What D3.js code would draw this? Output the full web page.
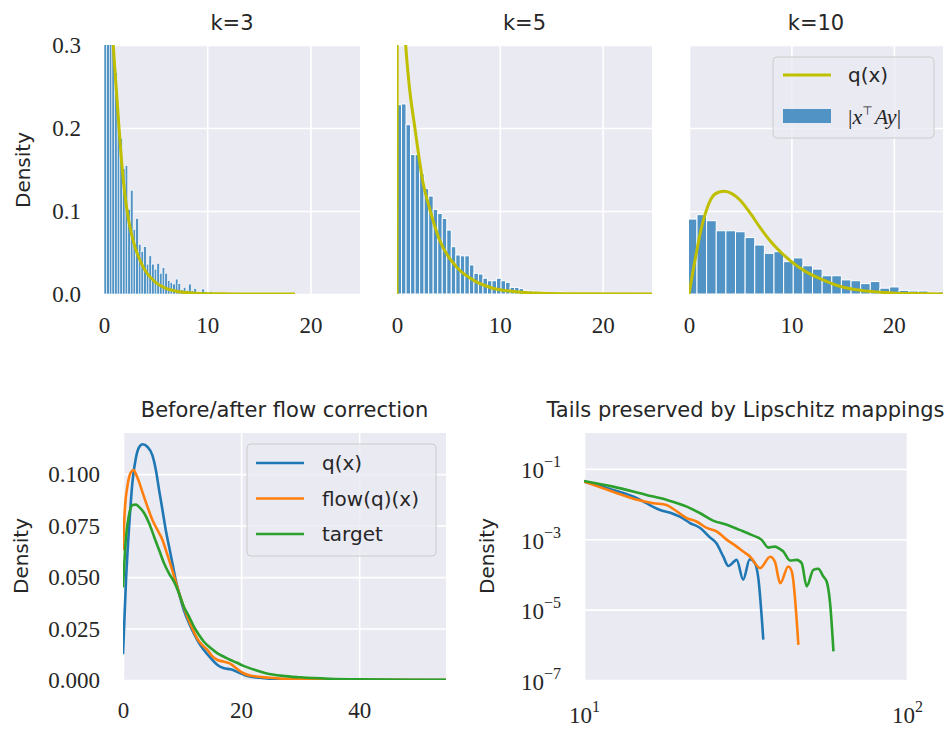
<!DOCTYPE html>
<html>
<head>
<meta charset="utf-8">
<title>Density panels</title>
<script src="https://d3js.org/d3.v7.min.js"></script>
<style>
  body { margin: 0; background: #ffffff; }
  text { fill: #262626; }
  .sans { font-family: "DejaVu Sans", sans-serif; }
  .serif { font-family: "Liberation Serif", serif; }
</style>
</head>
<body>
<script type="text/javascript">
	var W = 947, H = 730;

	// --- histograms of |x^T A y| (density per bin)
	var histK3Start = 0, histK3Width = 0.256;
	var histK3 = [0.55, 0.45, 0.38, 0.32, 0.267, 0.214, 0.187, 0.151, 0.155, 0.102, 0.125, 0.078, 0.091,
		0.060, 0.051, 0.057, 0.036, 0.046, 0.036, 0.030, 0.037, 0.025, 0.032, 0.025, 0.016, 0.014, 0.012,
		0.018, 0.0125, 0.005, 0.008, 0.0045, 0.012, 0.004, 0.0065, 0.002, 0.001, 0.006, 0.003, 0.0005,
		0.003, 0.0005, 0.002, 0.0003, 0.0003, 0.0003, 0.002];

	var histK5Start = 0, histK5Width = 0.44;
	var histK5 = [0.228, 0.229, 0.204, 0.168, 0.168, 0.145, 0.127, 0.118, 0.102, 0.097, 0.091, 0.077,
		0.057, 0.047, 0.046, 0.046, 0.035, 0.025, 0.024, 0.019, 0.016, 0.016, 0.019, 0.016, 0.014, 0.008,
		0.008, 0.0065, 0.004, 0.0036, 0.0016, 0.0012, 0.0024, 0.0008, 0.0005, 0.0005, 0.0024, 0.0003, 0.0003];

	var histK10Start = -0.16, histK10Width = 0.94;
	var histK10 = [0.0903, 0.0956, 0.0883, 0.0762, 0.0762, 0.075, 0.068, 0.059, 0.049, 0.051, 0.039,
		0.0435, 0.034, 0.030, 0.022, 0.022, 0.017, 0.016, 0.0125, 0.015, 0.007, 0.0085, 0.0044, 0.0036,
		0.0036, 0.0016, 0.0024];

	// --- fitted q(x) curves [x, density]
	var qK3 = [[0.4, 0.45], [0.6, 0.37], [0.85, 0.31], [1.0, 0.28], [1.2, 0.245], [1.4, 0.21], [1.7, 0.16],
		[2.0, 0.122], [2.4, 0.088], [2.85, 0.063], [3.4, 0.043], [4.0, 0.028], [5.0, 0.014], [6.0, 0.0068],
		[7.0, 0.0033], [8.5, 0.0012], [10, 0.0004], [13, 0.0001], [18.5, 0]];
	var qK5 = [[0, 0], [0.02, 0.3], [0.1, 0.48], [0.3, 0.46], [0.5, 0.39], [0.81, 0.307], [1.2, 0.25],
		[1.72, 0.202], [2.52, 0.135], [3.17, 0.103], [4.14, 0.065], [5.76, 0.033], [7.38, 0.017],
		[9.32, 0.007], [11.3, 0.003], [14, 0.0008], [17, 0.0002], [24.8, 0]];
	var qK10 = [[0, 0], [0.59, 0.041], [1.24, 0.081], [1.73, 0.102], [2.22, 0.116], [2.88, 0.1226],
		[3.46, 0.1238], [4.18, 0.121], [5.0, 0.113], [6.0, 0.097], [7.0, 0.079], [8.0, 0.063], [9.0, 0.05],
		[10.0, 0.039], [11.4, 0.027], [12.7, 0.019], [14.3, 0.0109], [15.9, 0.006], [17.6, 0.0032],
		[19.9, 0.0012], [22, 0.0005], [24.8, 0.0001]];

	// --- before/after flow correction
	var flowQ = [[0, 0.0125], [0.5, 0.048], [1.07, 0.076], [1.63, 0.097], [2.19, 0.108], [2.75, 0.1132],
		[3.32, 0.1145], [4.16, 0.1132], [5.0, 0.109], [5.57, 0.102], [6.13, 0.092], [6.69, 0.0825],
		[7.25, 0.0728], [7.81, 0.0647], [8.38, 0.0566], [8.94, 0.0485], [9.5, 0.042], [10.3, 0.034],
		[11.2, 0.0275], [12.0, 0.0226], [12.9, 0.0178], [13.7, 0.0146], [14.9, 0.0105], [16.0, 0.0073],
		[17.1, 0.0057], [18.2, 0.0052], [19.7, 0.0035], [20.9, 0.0021], [23.1, 0.0011], [25, 0.0006],
		[30, 0.0001], [40, 0.00002], [54.7, 0]];
	var flowCorrected = [[0, 0.063], [0.34, 0.084], [0.79, 0.095], [1.35, 0.101], [1.8, 0.102], [2.19, 0.100],
		[2.75, 0.096], [3.32, 0.091], [4.16, 0.084], [5.0, 0.0776], [5.85, 0.0728], [6.69, 0.068], [7.5, 0.061],
		[8.38, 0.053], [9.2, 0.045], [10.1, 0.037], [10.9, 0.0307], [11.75, 0.025], [12.6, 0.020], [13.4, 0.017],
		[14.3, 0.0146], [15.1, 0.0116], [16.0, 0.0097], [17.1, 0.0089], [18.2, 0.0078], [19.2, 0.0057],
		[20.3, 0.0034], [22.0, 0.0019], [24.8, 0.0011], [27, 0.0006], [30, 0.0003], [40, 0.00005], [54.7, 0]];
	var flowTarget = [[0, 0.045], [0.51, 0.0695], [1.07, 0.081], [1.63, 0.085], [2.19, 0.0852], [2.75, 0.084],
		[3.6, 0.081], [4.44, 0.076], [5.28, 0.0695], [6.13, 0.063], [6.97, 0.0566], [7.81, 0.0517],
		[8.66, 0.0477], [9.5, 0.042], [10.3, 0.0356], [11.2, 0.0307], [12.0, 0.0259], [12.9, 0.0218],
		[13.7, 0.0186], [14.9, 0.0154], [16.0, 0.0129], [17.1, 0.0113], [18.2, 0.0097], [19.2, 0.0085],
		[20.3, 0.0070], [22, 0.0052], [24.2, 0.0033], [27, 0.0020], [30, 0.0013], [35, 0.0006], [40, 0.0003],
		[50, 0.0001], [54.7, 0.00005]];

	// --- tails (log-log)
	var tailQ = [[10.0, 0.0436], [12.3, 0.0253], [14.6, 0.0147], [15.6, 0.0106], [17.2, 0.0068], [18.5, 0.0057],
		[19.8, 0.0044], [21.3, 0.0029], [22.9, 0.0021], [24.5, 0.00115], [25.7, 0.00077], [27.0, 0.00032],
		[28.0, 0.000174], [29.7, 0.00026], [31.1, 0.000071], [32.6, 0.00027], [33.8, 0.00021], [34.6, 0.000087],
		[35.9, 0.0000014]];
	var tailFlow = [[10.0, 0.0436], [12.3, 0.0226], [14.6, 0.0132], [16.4, 0.0106], [18.0, 0.0095], [19.1, 0.0068],
		[20.8, 0.0040], [22.3, 0.0032], [24.0, 0.0021], [25.8, 0.00166], [27.7, 0.00096], [29.7, 0.00062],
		[31.1, 0.000447], [32.7, 0.00032], [35.1, 0.000151], [37.7, 0.00032], [39.0, 0.00023], [40.5, 0.000056],
		[42.9, 0.000168], [44.0, 0.00012], [46.1, 0.000001]];
	var tailTarget = [[10.0, 0.0456], [12.3, 0.0314], [15.6, 0.0182], [18.0, 0.0132], [20.8, 0.0085], [22.9, 0.0055],
		[25.1, 0.0034], [27.7, 0.0026], [30.3, 0.00185], [33.0, 0.00133], [35.5, 0.00096], [37.2, 0.00058],
		[39.0, 0.00062], [40.4, 0.00053], [41.4, 0.00045], [43.4, 0.00025], [45.5, 0.00026], [47.2, 0.00021],
		[48.9, 0.000046], [51.3, 0.000135], [53.1, 0.000145], [55.1, 0.000087], [56.4, 0.000063],
		[57.8, 0.000015], [59.2, 0.00000065]];

	var topTitles = ["k=3", "k=5", "k=10"];
	var topXTicks = [0, 10, 20];
	var topYTicks = [0, 0.1, 0.2, 0.3];
	var flowXTicks = [0, 20, 40];
	var flowYTicks = [0, 0.025, 0.05, 0.075, 0.1];
	var tailXTicks = [10, 100];
	var tailYTicks = [1e-1, 1e-3, 1e-5, 1e-7];
	var flowLegend = ["q(x)", "flow(q)(x)", "target"];

	var barColour = "#5193c5";
	var qColour   = "#bfbf00";
	var tabColours = ["#1f77b4", "#ff7f0e", "#2ca02c"];

	var svg = d3.select("body").append("svg")
		.attr("width", W)
		.attr("height", H);

	function makePanel(id, box, x, y, xGrid, yGrid) {
		x.range([box.l, box.r]);
		y.range([box.b, box.t]);
		var g = svg.append("g");
		g.append("rect")
			.attr("x", box.l).attr("y", box.t)
			.attr("width", box.r - box.l).attr("height", box.b - box.t)
			.attr("fill", "#eaeaf2");

		// white grid through the axis generators
		var gx = g.append("g").attr("transform", "translate(0," + box.b + ")")
			.call(d3.axisBottom(x).tickValues(xGrid).tickSize(-(box.b - box.t)).tickFormat(""));
		var gy = g.append("g").attr("transform", "translate(" + box.l + ",0)")
			.call(d3.axisLeft(y).tickValues(yGrid).tickSize(-(box.r - box.l)).tickFormat(""));
		[gx, gy].forEach(function(a) {
			a.select(".domain").remove();
			a.selectAll("line").attr("stroke", "#ffffff").attr("stroke-width", 1.6);
		});

		svg.append("clipPath").attr("id", id).append("rect")
			.attr("x", box.l).attr("y", box.t)
			.attr("width", box.r - box.l).attr("height", box.b - box.t);
		var plot = g.append("g").attr("clip-path", "url(#" + id + ")");
		return { g: g, plot: plot, x: x, y: y, box: box };
	}

	function xLabels(p, ticks, baseline, fmt) {
		var a = p.g.append("g").attr("transform", "translate(0," + p.box.b + ")")
			.call(d3.axisBottom(p.x).tickValues(ticks).tickSize(0).tickFormat(fmt));
		a.select(".domain").remove();
		a.selectAll("text").attr("class", "serif").attr("font-size", 23)
			.attr("y", baseline - p.box.b).attr("dy", 0);
		return a;
	}

	function yLabels(p, ticks, fmt) {
		var a = p.g.append("g").attr("transform", "translate(" + p.box.l + ",0)")
			.call(d3.axisLeft(p.y).tickValues(ticks).tickSize(0).tickFormat(fmt));
		a.select(".domain").remove();
		a.selectAll("text").attr("class", "serif").attr("font-size", 23)
			.attr("x", -23).attr("dy", 7.5);
		return a;
	}

	function powerText(sel) {
		sel.each(function(d) {
			var e = Math.round(Math.log10(d));
			var t = d3.select(this).text("");
			t.append("tspan").text("10");
			t.append("tspan").attr("dy", -11).attr("font-size", 16)
				.text(e < 0 ? "\u2212" + (-e) : String(e));
		});
	}

	function drawHist(p, start, width, values, stroke) {
		p.plot.selectAll("rect.bar").data(values).enter().append("rect")
			.attr("class", "bar")
			.attr("x", (d, i) => p.x(start + i * width))
			.attr("width", (d, i) => p.x(start + (i + 1) * width) - p.x(start + i * width))
			.attr("y", d => p.y(d))
			.attr("height", d => p.y(0) - p.y(d))
			.attr("fill", barColour)
			.attr("stroke", "#ffffff").attr("stroke-width", stroke);
	}

	function drawCurve(p, pts, colour, width) {
		var line = d3.line().x(d => p.x(d[0])).y(d => p.y(d[1])).curve(d3.curveMonotoneX);
		p.plot.append("path").datum(pts)
			.attr("d", line)
			.attr("fill", "none")
			.attr("stroke", colour)
			.attr("stroke-width", width)
			.attr("stroke-linejoin", "round");
	}

	function yTitle(x, yMid) {
		svg.append("text").attr("class", "sans").attr("font-size", 20)
			.attr("text-anchor", "middle")
			.attr("transform", "translate(" + x + "," + yMid + ") rotate(-90)")
			.text("Density");
	}

	function title(x, y, s) {
		svg.append("text").attr("class", "sans").attr("font-size", 21)
			.attr("text-anchor", "middle").attr("x", x).attr("y", y).text(s);
	}

	// ---------------- top row
	var topBoxes = [
		{ l: 104, r: 360, t: 45, b: 294 },
		{ l: 397, r: 652, t: 45, b: 294 },
		{ l: 689, r: 943, t: 45, b: 294 }
	];
	var hists = [
		[histK3Start, histK3Width, histK3, 0.6],
		[histK5Start, histK5Width, histK5, 1],
		[histK10Start, histK10Width, histK10, 1]
	];
	var qs = [qK3, qK5, qK10];

	topBoxes.forEach(function(box, i) {
		var p = makePanel("clipTop" + i, box,
			d3.scaleLinear().domain([0, 24.8]),
			d3.scaleLinear().domain([0, 0.3]),
			topXTicks, topYTicks);
		drawHist(p, hists[i][0], hists[i][1], hists[i][2], hists[i][3]);
		drawCurve(p, qs[i], qColour, 3);
		xLabels(p, topXTicks, 333, d3.format("d"));
		if (i == 0) yLabels(p, topYTicks, d3.format(".1f"));
		title((box.l + box.r) / 2, 30, topTitles[i]);

		if (i == 2) {
			var lg = p.g.append("g");
			lg.append("rect").attr("x", 773).attr("y", 57).attr("width", 161).attr("height", 81)
				.attr("rx", 4).attr("fill", "#eaeaf2").attr("fill-opacity", 0.8)
				.attr("stroke", "#cccccc").attr("stroke-width", 1);
			lg.append("line").attr("x1", 783).attr("x2", 831).attr("y1", 75).attr("y2", 75)
				.attr("stroke", qColour).attr("stroke-width", 3);
			lg.append("text").attr("class", "sans").attr("font-size", 20)
				.attr("x", 848).attr("y", 82).text("q(x)");
			lg.append("rect").attr("x", 783).attr("y", 109).attr("width", 48).attr("height", 14)
				.attr("fill", barColour);
			var mt = lg.append("text").attr("class", "serif").attr("font-size", 22)
				.attr("x", 848).attr("y", 124);
			mt.append("tspan").text("|");
			mt.append("tspan").attr("font-style", "italic").text("x");
			mt.append("tspan").attr("font-family", "DejaVu Sans").attr("font-size", 12).attr("dy", -9).text("\u22A4");
			mt.append("tspan").attr("font-style", "italic").attr("dy", 9).attr("dx", 2).text("Ay");
			mt.append("tspan").text("|");
		}
	});
	yTitle(30, 170);

	// ---------------- before / after flow correction
	var pFlow = makePanel("clipFlow", { l: 123, r: 446, t: 433, b: 680 },
		d3.scaleLinear().domain([0, 54.7]),
		d3.scaleLinear().domain([0, 0.12]),
		flowXTicks, flowYTicks);
	[flowQ, flowCorrected, flowTarget].forEach(function(s, i) {
		drawCurve(pFlow, s, tabColours[i], 2.6);
	});
	xLabels(pFlow, flowXTicks, 718, d3.format("d"));
	yLabels(pFlow, flowYTicks, d3.format(".3f"));
	title(284.5, 417, "Before/after flow correction");
	yTitle(28, 556);

	var lf = pFlow.g.append("g");
	lf.append("rect").attr("x", 247).attr("y", 444).attr("width", 189).attr("height", 112)
		.attr("rx", 4).attr("fill", "#eaeaf2").attr("fill-opacity", 0.8)
		.attr("stroke", "#cccccc").attr("stroke-width", 1);
	flowLegend.forEach(function(s, i) {
		var yy = 463 + i * 35.5;
		lf.append("line").attr("x1", 256).attr("x2", 304).attr("y1", yy).attr("y2", yy)
			.attr("stroke", tabColours[i]).attr("stroke-width", 2.6);
		lf.append("text").attr("class", "sans").attr("font-size", 20)
			.attr("x", 322).attr("y", yy + 7).text(s);
	});

	// ---------------- tails, log-log
	var pTail = makePanel("clipTail", { l: 584, r: 907, t: 433, b: 680 },
		d3.scaleLog().domain([10, 100]),
		d3.scaleLog().domain([1e-7, 1.05]),
		tailXTicks, tailYTicks);
	[tailQ, tailFlow, tailTarget].forEach(function(s, i) {
		drawCurve(pTail, s, tabColours[i], 2.6);
	});
	xLabels(pTail, tailXTicks, 723, d3.format("d")).selectAll("text").call(powerText);
	yLabels(pTail, tailYTicks, d3.format("d")).selectAll("text").attr("dy", 9).call(powerText);
	title(745.5, 417, "Tails preserved by Lipschitz mappings");
	yTitle(494, 556);
</script>
</body>
</html>
